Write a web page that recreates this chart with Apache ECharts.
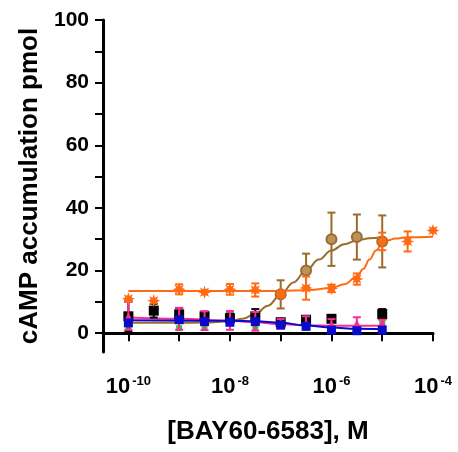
<!DOCTYPE html>
<html>
<head>
<meta charset="utf-8">
<script src="https://cdn.jsdelivr.net/npm/echarts@6/dist/echarts.min.js"></script>
<style>
  html, body { margin: 0; padding: 0; background: #fff; }
  #chart { width: 458px; height: 452px; }
</style>
</head>
<body>
<div id="chart"></div>
<script>
// concentrations are log10([BAY60-6583] / M)
const xTickLabels = [-10, -8, -6, -4];
const xTicks = [-10, -9, -8, -7, -6, -5, -4];
const yTickLabels = [0, 20, 40, 60, 80, 100];
const yTicks = [0, 10, 20, 30, 40, 50, 60, 70, 80, 90, 100];

// orange stars
const orangeX = [-10, -9.5, -9, -8.5, -8, -7.5, -7, -6.5, -6, -5.5, -5, -4.5, -4];
const orangeY = [11.0, 10.4, 14.0, 13.1, 14.0, 13.8, 12.5, 14.4, 14.3, 17.3, 29.3, 29.3, 32.8];
const orangeErr = [0, 0, 1.6, 0, 1.7, 2.1, 1.0, 3.7, 1.2, 1.8, 2.8, 3.2, 0];
const orangeFitX = [-10, -8, -7, -6.5, -6, -5.75, -5.5, -5.375, -5.25, -5.125, -5, -4.875, -4.75, -4.5, -4];
const orangeFitY = [13.5, 13.5, 13.5, 13.7, 14.4, 15.6, 18.0, 20.5, 23.5, 26.4, 28.5, 29.7, 30.2, 30.6, 30.8];

// brown circles
const brownX = [-7, -6.5, -6, -5.5, -5];
const brownY = [12.4, 20.0, 30.0, 30.7, 29.3];
const brownErr = [4.5, 5.4, 8.5, 7.2, 8.3];
const brownFitX = [-10, -9, -8.5, -8, -7.75, -7.5, -7.25, -7, -6.75, -6.5, -6.25, -6, -5.75, -5.5, -5.25, -5];
const brownFitY = [3.3, 3.3, 3.4, 3.8, 4.6, 6.2, 8.8, 12.3, 16.2, 20.0, 23.5, 26.4, 28.4, 29.6, 30.3, 30.7];

// black squares
const blackX = [-10, -9.5, -9, -8.5, -8, -7.5, -7, -6.5, -6, -5];
const blackY = [5.4, 7.2, 6.0, 5.4, 4.8, 5.4, 3.5, 4.3, 4.6, 6.1];
const blackErr = [4.8, 2.2, 2.0, 1.5, 1.5, 2.3, 1.0, 1.0, 1.0, 1.6];

// pink
const pinkX = [-10, -9, -8.5, -8, -7.5, -7, -6.5, -6, -5.5, -5];
const pinkY = [5.6, 4.6, 4.0, 4.1, 3.8, 3.0, 3.4, 3.0, 3.3, 3.3];
const pinkErr = [4.5, 3.5, 3.0, 3.0, 3.0, 1.5, 2.0, 1.5, 1.8, 1.0];
const pinkFitX = [-10, -9, -8, -7.5, -7, -6.5, -6, -5];
const pinkFitY = [5.0, 4.6, 4.0, 3.5, 2.9, 2.5, 2.4, 2.4];

// blue squares
const blueX = [-10, -9, -8.5, -8, -7.5, -7, -6.5, -6, -5.5, -5];
const blueY = [3.3, 4.3, 3.7, 3.5, 3.7, 2.6, 2.2, 1.0, 0.8, 1.0];
const blueFitX = [-10, -8, -7.5, -7, -6.5, -6, -5.5, -5];
const blueFitY = [4.1, 4.0, 3.8, 3.3, 2.5, 1.8, 1.4, 1.3];

// green
const greenX = [-10, -9, -8.5, -7.5, -6.5, -5];
const greenY = [1.9, 1.6, 1.7, 1.7, 1.7, 3.0];

const FONT = '"Liberation Sans", Arial, sans-serif';

function starPath(n, inner) {
  const pts = [];
  for (let i = 0; i < n * 2; i++) {
    const r = i % 2 === 0 ? 10 : 10 * inner;
    const a = Math.PI * i / n - Math.PI / 2;
    pts.push((10 + r * Math.cos(a)).toFixed(2) + ' ' + (10 + r * Math.sin(a)).toFixed(2));
  }
  return 'path://M' + pts.join(' L') + ' Z';
}

function zip(xs, ys) {
  return xs.map((x, i) => [x, ys[i]]);
}

function errorBars(xs, ys, errs, color, z) {
  return {
    type: 'custom',
    z: z,
    silent: true,
    data: xs.map((x, i) => [x, ys[i] - errs[i], ys[i] + errs[i]]),
    renderItem(params, api) {
      const lo = api.coord([api.value(0), api.value(1)]);
      const hi = api.coord([api.value(0), api.value(2)]);
      const w = 4;
      const style = { stroke: color, lineWidth: 2 };
      return {
        type: 'group',
        children: [
          { type: 'line', shape: { x1: lo[0], y1: lo[1], x2: hi[0], y2: hi[1] }, style },
          { type: 'line', shape: { x1: lo[0] - w, y1: lo[1], x2: lo[0] + w, y2: lo[1] }, style },
          { type: 'line', shape: { x1: hi[0] - w, y1: hi[1], x2: hi[0] + w, y2: hi[1] }, style },
        ],
      };
    },
  };
}

function fitLine(xs, ys, color, z) {
  return {
    type: 'line',
    z: z,
    data: zip(xs, ys),
    smooth: 0.4,
    smoothMonotone: 'x',
    showSymbol: false,
    lineStyle: { color: color, width: 2 },
  };
}

function points(xs, ys, color, symbol, size, z, border) {
  return {
    type: 'scatter',
    z: z,
    data: zip(xs, ys),
    symbol: symbol,
    symbolSize: size,
    itemStyle: border ? { color: color, borderColor: border, borderWidth: 2, opacity: 1 } : { color: color, opacity: 1 },
  };
}

const orange = '#ff6a13';
const brown = '#9c6b2c';
const pink = '#ff2b94';
const blue = '#0a0acc';
const green = '#2fc62f';

const chart = echarts.init(document.getElementById('chart'));
chart.setOption({
  animation: false,
  textStyle: { fontFamily: FONT },
  grid: { left: 103, right: 25, top: 20, bottom: 100 },
  xAxis: {
    type: 'value',
    min: -10.5,
    max: -4,
    name: '[BAY60-6583], M',
    nameLocation: 'middle',
    nameGap: 67,
    nameTextStyle: { fontSize: 26, fontWeight: 'bold', color: '#000', fontFamily: FONT },
    axisLine: { lineStyle: { color: '#000', width: 3 } },
    axisTick: { customValues: xTicks, length: 8, lineStyle: { color: '#000', width: 2 } },
    splitLine: { show: false },
    axisLabel: {
      customValues: xTickLabels,
      margin: 23,
      formatter: (v) => '{b|10}{s|' + v + '}',
      rich: {
        b: { fontSize: 22, fontWeight: 'bold', color: '#000', fontFamily: FONT },
        s: { fontSize: 13, fontWeight: 'bold', color: '#000', fontFamily: FONT, padding: [0, 0, 11, 2] },
      },
    },
  },
  yAxis: {
    type: 'value',
    min: -6,
    max: 100,
    name: 'cAMP accumulation pmol',
    nameLocation: 'middle',
    nameGap: 57,
    nameTextStyle: { fontSize: 26, fontWeight: 'bold', color: '#000', fontFamily: FONT },
    axisLine: { lineStyle: { color: '#000', width: 3 } },
    axisTick: { customValues: yTicks, length: 8, lineStyle: { color: '#000', width: 2 } },
    splitLine: { show: false },
    axisLabel: {
      customValues: yTickLabels,
      margin: 14,
      fontSize: 21,
      fontWeight: 'bold',
      color: '#000',
      fontFamily: FONT,
    },
  },
  series: [
    {
      type: 'line',
      data: [],
      markLine: {
        silent: true,
        symbol: 'none',
        label: { show: false },
        lineStyle: { color: '#000', width: 2, type: [3, 3] },
        data: [{ yAxis: 0 }],
      },
    },
    fitLine(brownFitX, brownFitY, brown, 2),
    fitLine(orangeFitX, orangeFitY, orange, 2),
    fitLine(pinkFitX, pinkFitY, pink, 2),
    fitLine(blueFitX, blueFitY, blue, 2),
    points(greenX, greenY, green, 'rect', 6, 3),
    errorBars(blackX, blackY, blackErr, '#000', 4),
    points(blackX, blackY, '#000', 'rect', 10, 4),
    errorBars(pinkX, pinkY, pinkErr, pink, 5),
    points(pinkX, pinkY, pink, 'triangle', 7, 5),
    points(blueX, blueY, blue, 'rect', 9, 6),
    errorBars(brownX, brownY, brownErr, brown, 7),
    points(brownX, brownY, '#b9935a', 'circle', 10, 7, brown),
    errorBars(orangeX, orangeY, orangeErr, orange, 8),
    points(orangeX, orangeY, orange, starPath(8, 0.5), 13, 8),
  ],
});
</script>
</body>
</html>
